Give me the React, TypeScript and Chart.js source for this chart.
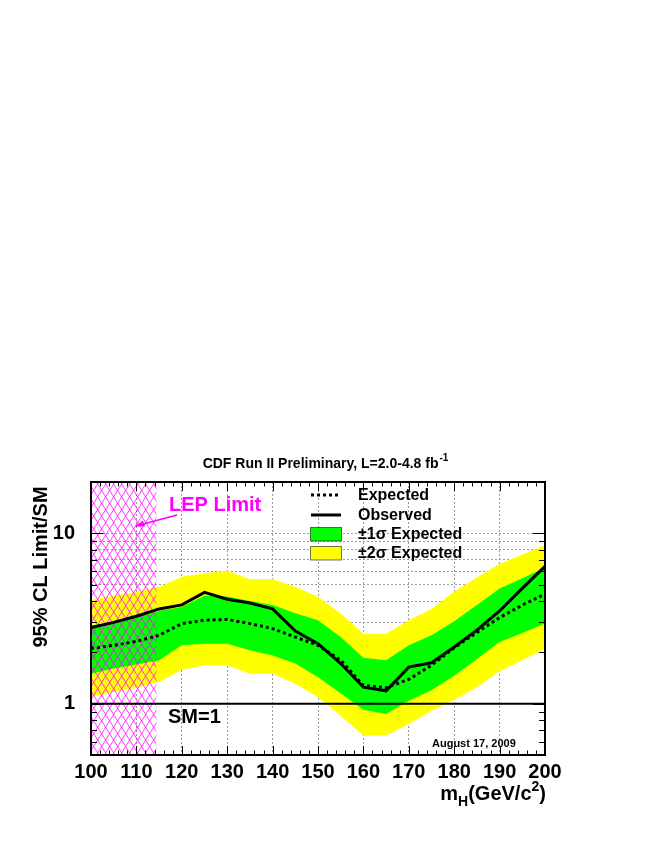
import React, { useEffect, useRef } from 'react';
import { Chart, registerables } from 'chart.js';

Chart.register(...registerables);

// ---- data ----
const MASSES = [100, 105, 110, 115, 120, 125, 130, 135, 140, 145, 150, 155, 160, 165, 170, 175, 180, 185, 190, 195, 200];
const OBSERVED = [2.8, 3.0, 3.26, 3.6, 3.8, 4.5, 4.1, 3.9, 3.6, 2.67, 2.25, 1.72, 1.25, 1.19, 1.64, 1.74, 2.15, 2.7, 3.5, 4.75, 6.4];
const EXPECTED = [2.11, 2.2, 2.32, 2.52, 2.95, 3.09, 3.12, 2.95, 2.76, 2.46, 2.2, 1.8, 1.28, 1.24, 1.39, 1.68, 2.13, 2.62, 3.2, 3.79, 4.4];
const SIGMA1_UP = [2.87, 3.0, 3.2, 3.5, 3.7, 4.3, 4.25, 4.0, 3.8, 3.4, 3.09, 2.46, 1.86, 1.8, 2.2, 2.52, 3.05, 3.8, 4.75, 5.45, 6.3];
const SIGMA1_DOWN = [1.5, 1.61, 1.7, 1.8, 2.2, 2.25, 2.25, 2.06, 1.92, 1.72, 1.43, 1.15, 0.92, 0.87, 1.04, 1.2, 1.46, 1.83, 2.3, 2.6, 2.96];
const SIGMA2_UP = [4.05, 4.3, 4.53, 4.85, 5.55, 5.82, 6.03, 5.4, 5.4, 4.85, 4.24, 3.38, 2.57, 2.57, 3.09, 3.6, 4.55, 5.5, 6.6, 7.5, 8.5];
const SIGMA2_DOWN = [1.1, 1.17, 1.24, 1.34, 1.58, 1.68, 1.68, 1.5, 1.5, 1.31, 1.09, 0.85, 0.65, 0.65, 0.76, 0.91, 1.05, 1.25, 1.55, 1.8, 2.1];

const X_MIN = 100;
const X_MAX = 200;
const Y_MIN = 0.5;
const Y_MAX = 20;
const X_LABEL_STEP = 10;
const X_MINOR_STEP = 2;
const Y_LABELS = [1, 10];
const Y_GRID = [2, 3, 4, 5, 6, 7, 8, 9, 10];
const Y_TICKS = [0.5, 0.6, 0.7, 0.8, 0.9, 1, 2, 3, 4, 5, 6, 7, 8, 9, 10, 20];
const LEP_LIMIT = 114.4;
const SM_LEVEL = 1;

const TITLE = 'CDF Run II Preliminary, L=2.0-4.8 fb';
const TITLE_SUP = '-1';
const Y_TITLE = '95% CL Limit/SM';
const LEGEND_ITEMS = ['Expected', 'Observed', '\u00b11\u03c3 Expected', '\u00b12\u03c3 Expected'];
const DATE_TEXT = 'August 17, 2009';

const FONT = '"Liberation Sans", Arial, Helvetica, sans-serif';
const GREEN = '#00ff00';
const YELLOW = '#ffff00';
const MAGENTA = '#ff00ff';

const pts = (vals: number[]) => MASSES.map((m, i) => ({ x: m, y: vals[i] }));

const decorPlugin = {
  id: 'decor',
  afterDatasetDraw(chart: any, args: any) {
    if (args.index !== 2) return;
    const { ctx, chartArea: a, scales } = chart;
    const x0 = scales.x.getPixelForValue(X_MIN);
    const x1 = scales.x.getPixelForValue(LEP_LIMIT);
    ctx.save();
    ctx.beginPath();
    ctx.rect(x0, a.top, x1 - x0, a.bottom - a.top);
    ctx.clip();
    ctx.strokeStyle = 'rgba(255,0,255,0.75)';
    ctx.lineWidth = 1;
    const w = 8;
    const s = 1.6;
    const H = a.bottom - a.top;
    for (let cx = x0 - H / s - w; cx < x1 + w; cx += w) {
      ctx.beginPath();
      ctx.moveTo(cx, a.bottom);
      ctx.lineTo(cx + H / s, a.top);
      ctx.stroke();
      ctx.beginPath();
      ctx.moveTo(cx, a.top);
      ctx.lineTo(cx + H / s, a.bottom);
      ctx.stroke();
    }
    ctx.restore();
  },
  afterDraw(chart: any) {
    const { ctx, chartArea: a, scales } = chart;
    const xs = scales.x;
    const ys = scales.y;
    ctx.save();
    // SM = 1 line
    const ySM = ys.getPixelForValue(SM_LEVEL);
    ctx.strokeStyle = '#000';
    ctx.lineWidth = 2;
    ctx.beginPath();
    ctx.moveTo(a.left, ySM);
    ctx.lineTo(a.right, ySM);
    ctx.stroke();

    // ticks
    ctx.lineWidth = 1;
    for (let v = X_MIN; v <= X_MAX; v += X_MINOR_STEP) {
      const px = Math.round(xs.getPixelForValue(v)) + 0.5;
      const len = v % X_LABEL_STEP === 0 ? 9 : 4.5;
      ctx.beginPath();
      ctx.moveTo(px, a.bottom);
      ctx.lineTo(px, a.bottom - len);
      ctx.moveTo(px, a.top);
      ctx.lineTo(px, a.top + len);
      ctx.stroke();
    }
    for (const v of Y_TICKS) {
      const py = Math.round(ys.getPixelForValue(v)) + 0.5;
      const len = Y_LABELS.includes(v) ? 12 : 6;
      ctx.beginPath();
      ctx.moveTo(a.left, py);
      ctx.lineTo(a.left + len, py);
      ctx.moveTo(a.right, py);
      ctx.lineTo(a.right - len, py);
      ctx.stroke();
    }

    // frame
    ctx.lineWidth = 2;
    ctx.strokeRect(a.left, a.top, a.right - a.left, a.bottom - a.top);

    // title
    ctx.fillStyle = '#000';
    ctx.textBaseline = 'alphabetic';
    ctx.font = `bold 14px ${FONT}`;
    const tw = ctx.measureText(TITLE).width;
    ctx.font = `bold 10px ${FONT}`;
    const sw = ctx.measureText(TITLE_SUP).width;
    const tx = 325 - (tw + sw) / 2;
    ctx.font = `bold 14px ${FONT}`;
    ctx.textAlign = 'left';
    ctx.fillText(TITLE, tx, 468);
    ctx.font = `bold 10px ${FONT}`;
    ctx.fillText(TITLE_SUP, tx + tw + 1, 461);

    // y title
    ctx.save();
    ctx.translate(47, 567);
    ctx.rotate(-Math.PI / 2);
    ctx.font = `bold 20px ${FONT}`;
    ctx.textAlign = 'center';
    ctx.fillText(Y_TITLE, 0, 0);
    ctx.restore();

    // x title: m_H(GeV/c^2)
    const big = `bold 20px ${FONT}`;
    const small = `bold 14px ${FONT}`;
    const parts: [string, string, number][] = [
      ['m', big, 0],
      ['H', small, 6],
      ['(GeV/c', big, 0],
      ['2', small, -9],
      [')', big, 0],
    ];
    let total = 0;
    for (const [t, f] of parts) {
      ctx.font = f;
      total += ctx.measureText(t).width;
    }
    let px = 546 - total;
    const baseX = 800;
    for (const [t, f, dy] of parts) {
      ctx.font = f;
      ctx.fillText(t, px, baseX + dy);
      px += ctx.measureText(t).width;
    }

    // LEP Limit label + arrow
    ctx.fillStyle = MAGENTA;
    ctx.strokeStyle = MAGENTA;
    ctx.font = `bold 20px ${FONT}`;
    ctx.fillText('LEP Limit', 169, 511);
    ctx.lineWidth = 1.5;
    ctx.beginPath();
    ctx.moveTo(177, 515);
    ctx.lineTo(136, 526);
    ctx.stroke();
    ctx.beginPath();
    ctx.moveTo(135, 526.3);
    ctx.lineTo(143, 520.5);
    ctx.lineTo(145, 526.5);
    ctx.closePath();
    ctx.fill();

    // SM=1
    ctx.fillStyle = '#000';
    ctx.font = `bold 20px ${FONT}`;
    ctx.fillText('SM=1', 168, 723);

    // date
    ctx.font = `bold 11px ${FONT}`;
    ctx.fillText(DATE_TEXT, 432, 747);

    // legend
    ctx.strokeStyle = '#000';
    ctx.lineWidth = 3;
    ctx.setLineDash([3, 3]);
    ctx.beginPath();
    ctx.moveTo(311, 495);
    ctx.lineTo(341, 495);
    ctx.stroke();
    ctx.setLineDash([]);
    ctx.beginPath();
    ctx.moveTo(311, 515);
    ctx.lineTo(341, 515);
    ctx.stroke();
    ctx.lineWidth = 1;
    ctx.fillStyle = GREEN;
    ctx.fillRect(310.5, 527.5, 31, 13.5);
    ctx.strokeStyle = 'rgba(0,0,0,0.55)';
    ctx.strokeRect(310.5, 527.5, 31, 13.5);
    ctx.fillStyle = YELLOW;
    ctx.fillRect(310.5, 546.5, 31, 13.5);
    ctx.strokeRect(310.5, 546.5, 31, 13.5);
    ctx.fillStyle = '#000';
    ctx.font = `bold 16px ${FONT}`;
    ctx.textBaseline = 'middle';
    const ly = [495, 515, 534, 553];
    LEGEND_ITEMS.forEach((t, i) => ctx.fillText(t, 358, ly[i] + 1));
    ctx.restore();
  },
};

export default function App() {
  const ref = useRef<HTMLCanvasElement | null>(null);

  useEffect(() => {
    if (!ref.current) return;
    const chart = new Chart(ref.current, {
      type: 'line',
      data: {
        datasets: [
          { label: 'Observed', data: pts(OBSERVED), borderColor: '#000', borderWidth: 3, pointRadius: 0, fill: false, tension: 0 },
          { label: 'Expected', data: pts(EXPECTED), borderColor: '#000', borderWidth: 3, borderDash: [3, 3], pointRadius: 0, fill: false, tension: 0 },
          { label: '1s up', data: pts(SIGMA1_UP), borderWidth: 0, borderColor: 'rgba(0,0,0,0)', backgroundColor: GREEN, pointRadius: 0, fill: '+1', tension: 0 },
          { label: '1s down', data: pts(SIGMA1_DOWN), borderWidth: 0, borderColor: 'rgba(0,0,0,0)', pointRadius: 0, fill: false, tension: 0 },
          { label: '2s up', data: pts(SIGMA2_UP), borderWidth: 0, borderColor: 'rgba(0,0,0,0)', backgroundColor: YELLOW, pointRadius: 0, fill: '+1', tension: 0 },
          { label: '2s down', data: pts(SIGMA2_DOWN), borderWidth: 0, borderColor: 'rgba(0,0,0,0)', pointRadius: 0, fill: false, tension: 0 },
        ],
      },
      options: {
        animation: false,
        responsive: false,
        maintainAspectRatio: false,
        layout: { padding: { left: 0, top: 482, right: 109, bottom: 0 } },
        plugins: { legend: { display: false }, tooltip: { enabled: false }, title: { display: false } },
        scales: {
          x: {
            type: 'linear',
            min: X_MIN,
            max: X_MAX,
            afterFit: (s: any) => { s.height = 91; },
            ticks: {
              stepSize: X_LABEL_STEP,
              color: '#000',
              padding: 5,
              maxRotation: 0,
              font: { family: FONT, size: 20, weight: 'bold' },
            },
            grid: {
              drawTicks: false,
              color: (c: any) => (c.tick && c.tick.value > X_MIN && c.tick.value < X_MAX ? '#9a9a9a' : 'rgba(0,0,0,0)'),
              lineWidth: 1,
            },
            border: { display: false, dash: [2, 2] },
          },
          y: {
            type: 'logarithmic',
            min: Y_MIN,
            max: Y_MAX,
            afterFit: (s: any) => { s.width = 91; },
            afterBuildTicks: (s: any) => { s.ticks = Y_TICKS.map((v) => ({ value: v })); },
            ticks: {
              color: '#000',
              padding: 16,
              autoSkip: false,
              font: { family: FONT, size: 20, weight: 'bold' },
              callback: (v: any) => (Y_LABELS.includes(Number(v)) ? String(v) : ''),
            },
            grid: {
              drawTicks: false,
              color: (c: any) => (c.tick && Y_GRID.includes(c.tick.value) ? '#9a9a9a' : 'rgba(0,0,0,0)'),
              lineWidth: 1,
            },
            border: { display: false, dash: [2, 2] },
          },
        },
      },
      plugins: [decorPlugin],
    } as any);
    return () => chart.destroy();
  }, []);

  return (
    <div style={{ position: 'absolute', left: 0, top: 0, width: 654, height: 846, background: '#fff' }}>
      <canvas ref={ref} width={654} height={846} style={{ display: 'block', width: 654, height: 846 }} />
    </div>
  );
}
